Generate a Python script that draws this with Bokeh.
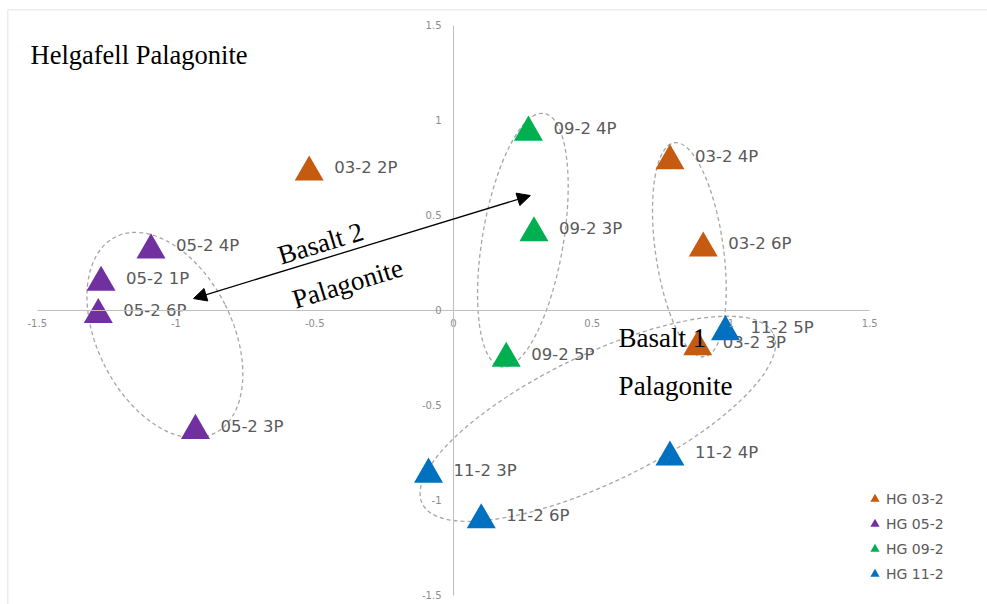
import math
from bokeh.plotting import figure
from bokeh.models import (ColumnDataSource, Label, Arrow, NormalHead, Legend,
                          LegendItem, FixedTicker, Range1d, Span)
from bokeh.transform import dodge
from bokeh.core.properties import value
from bokeh.embed import file_html
from bokeh.resources import INLINE

# ---------------- data ----------------
series_names = ["HG 03-2", "HG 05-2", "HG 09-2", "HG 11-2"]
series_colors = ["#C55A11", "#7030A0", "#00B050", "#0070C0"]

x_03_2 = [-0.52, 0.78, 0.90, 0.88]
y_03_2 = [0.75, 0.81, 0.35, -0.17]
labels_03_2 = ["03-2 2P", "03-2 4P", "03-2 6P", "03-2 3P"]

x_05_2 = [-1.09, -1.27, -1.28, -0.93]
y_05_2 = [0.34, 0.17, 0.00, -0.61]
labels_05_2 = ["05-2 4P", "05-2 1P", "05-2 6P", "05-2 3P"]

x_09_2 = [0.27, 0.29, 0.19]
y_09_2 = [0.96, 0.43, -0.23]
labels_09_2 = ["09-2 4P", "09-2 3P", "09-2 5P"]

x_11_2 = [0.98, -0.09, 0.10, 0.78]
y_11_2 = [-0.09, -0.84, -1.08, -0.75]
labels_11_2 = ["11-2 5P", "11-2 3P", "11-2 6P", "11-2 4P"]

tick_values = [-1.5, -1.0, -0.5, 0.0, 0.5, 1.0, 1.5]
tick_labels = ["-1.5", "-1", "-0.5", "0", "0.5", "1", "1.5"]

# dashed group outlines (centre in data units, size in px, angle in degrees)
ellipse_x = [-1.04, 0.25, 0.85, 0.52]
ellipse_y = [-0.13, 0.37, 0.32, -0.57]
ellipse_w = [135, 81, 68, 390]
ellipse_h = [220, 257, 216, 128]
ellipse_angle_deg = [26.7, -9.6, 8.0, 25.8]

# ---------------- figure ----------------
W, H = 987, 604
BL, BT = 7, 9                      # frame offset (outer chart border)
FW, FH = W - BL, H - BT
X0, X1 = -1.6072, 1.9243
Y0, Y1 = -1.5474, 1.5842

p = figure(width=W, height=H, output_backend="svg", toolbar_location=None,
           x_range=Range1d(X0, X1), y_range=Range1d(Y0, Y1),
           min_border=0, min_border_left=BL, min_border_right=0,
           min_border_top=BT, min_border_bottom=0)
p.background_fill_color = "white"
p.border_fill_color = "white"
p.outline_line_color = None
p.xgrid.visible = False
p.ygrid.visible = False

# chart-area border (only left and top edges are visible in the reference)
p.add_layout(Span(location=X0, dimension="height", line_color="#D9D9D9", line_width=1.5))
p.add_layout(Span(location=Y1, dimension="width", line_color="#D9D9D9", line_width=1.5))

for ax in (p.xaxis[0], p.yaxis[0]):
    ax.fixed_location = 0
    ax.bounds = (-1.5, 1.5)
    ax.ticker = FixedTicker(ticks=tick_values)
    ax.major_label_overrides = dict(zip(tick_values, tick_labels))
    ax.axis_line_color = "#BFBFBF"
    ax.axis_line_width = 1
    ax.major_tick_line_color = None
    ax.minor_tick_line_color = None
    ax.major_tick_in = 0
    ax.major_tick_out = 0
    ax.major_label_text_font = "DejaVu Sans"
    ax.major_label_text_font_size = "10px"
    ax.major_label_text_color = "#8C8C8C"
p.xaxis.major_label_standoff = 9
p.yaxis.major_label_standoff = 12

# group ellipses
p.ellipse(x=ellipse_x, y=ellipse_y, width=ellipse_w, height=ellipse_h,
          angle=[math.radians(a) for a in ellipse_angle_deg],
          width_units="screen", height_units="screen",
          fill_color=None, line_color="#A6A6A6", line_width=1.3, line_dash="4 3")

# markers: bokeh's triangle is anchored at its centroid, Excel's at its box centre
marker_size = 29
px_per_unit_y = FH / (Y1 - Y0)
anchor_shift = marker_size * math.sqrt(3) / 12 / px_per_unit_y

series = [(x_03_2, y_03_2, labels_03_2), (x_05_2, y_05_2, labels_05_2),
          (x_09_2, y_09_2, labels_09_2), (x_11_2, y_11_2, labels_11_2)]
items = []
for name, color, (xs, ys, labs) in zip(series_names, series_colors, series):
    src = ColumnDataSource(dict(x=xs, y=ys, label=labs))
    r = p.scatter(x="x", y=dodge("y", -anchor_shift), source=src,
                  marker="triangle", size=marker_size,
                  fill_color=color, line_color=None)
    p.text(x="x", y="y", text="label", source=src, x_offset=25,
           text_baseline="middle", text_align="left",
           text_font=value("DejaVu Sans"), text_font_size="16.5px",
           text_color="#595959")
    items.append(LegendItem(label=name, renderers=[r]))

legend = Legend(items=items, location=(856, 19), glyph_width=23, glyph_height=23,
                label_standoff=0, spacing=2, padding=0, margin=0,
                border_line_color=None, background_fill_alpha=0,
                label_text_font="DejaVu Sans", label_text_font_size="14px",
                label_text_color="#595959", label_height=20)
p.add_layout(legend)

# arrow
p.add_layout(Arrow(start=NormalHead(size=13, fill_color="black", line_color="black"),
                   end=NormalHead(size=13, fill_color="black", line_color="black"),
                   x_start=-0.937, y_start=0.063, x_end=0.277, y_end=0.605,
                   line_color="black", line_width=1.3))

serif = "Liberation Serif"
p.add_layout(Label(x=23, y=550, x_units="screen", y_units="screen",
                   text="Helgafell Palagonite", text_font=serif,
                   text_font_size="26.5px", text_color="black",
                   text_align="left", text_baseline="alphabetic"))
ang = math.radians(17)
p.add_layout(Label(x=-0.479, y=0.353, text="Basalt 2", angle=ang,
                   text_font=serif, text_font_size="27px", text_color="black",
                   text_align="center", text_baseline="alphabetic"))
p.add_layout(Label(x=-0.382, y=0.142, text="Palagonite", angle=ang,
                   text_font=serif, text_font_size="27px", text_color="black",
                   text_align="center", text_baseline="alphabetic"))
p.add_layout(Label(x=0.595, y=-0.147, text="Basalt 1",
                   text_font=serif, text_font_size="27px", text_color="black",
                   text_align="left", text_baseline="alphabetic"))
p.add_layout(Label(x=0.595, y=-0.395, text="Palagonite",
                   text_font=serif, text_font_size="27px", text_color="black",
                   text_align="left", text_baseline="alphabetic"))

open("out.html", "w").write(file_html(p, INLINE))
